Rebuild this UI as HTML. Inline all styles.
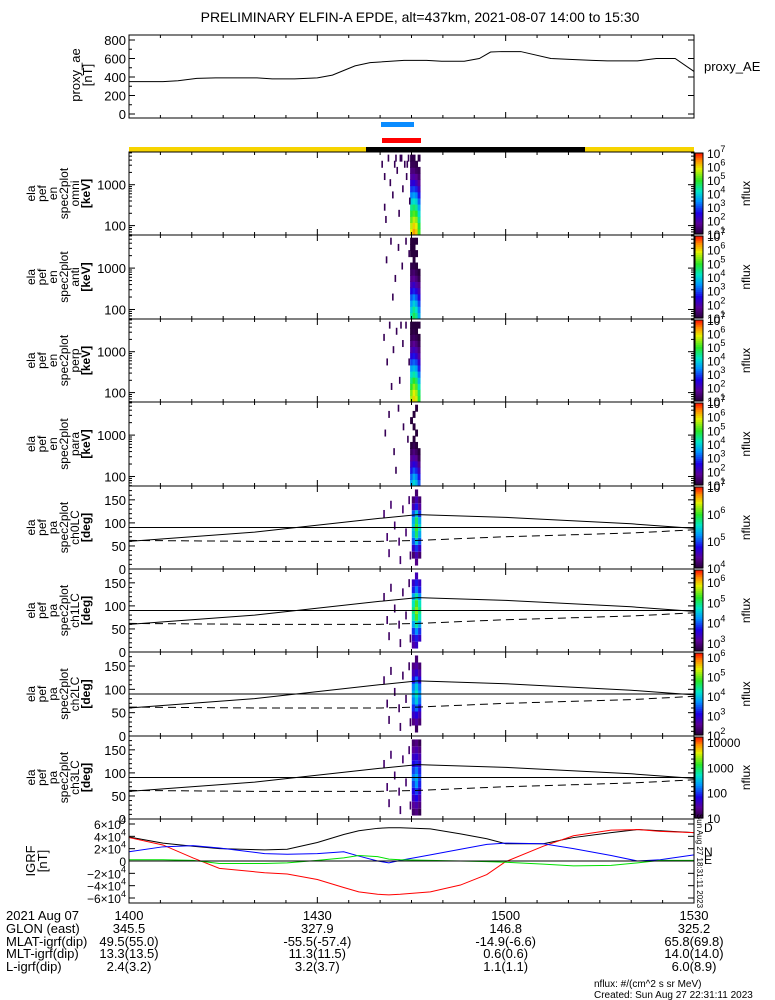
<!DOCTYPE html>
<html><head><meta charset="utf-8"><style>
body{margin:0;background:#fff;width:775px;height:1000px;overflow:hidden}
svg{display:block}
text{font-family:"Liberation Sans",sans-serif;fill:#000}
</style></head><body>
<svg id="c" width="775" height="1000"></svg>
<script>
// ---------- data ----------
const aeTimes=[0,5.4,7.8,10.8,13.8,20.4,22.8,26.4,30,32.4,34.2,36,38.4,43.8,47.4,49.8,53.4,55.8,57.6,59.4,62.4,67.2,70.2,73.8,76.2,81,84,87,90];
const aeValues=[350,350,360,385,390,390,380,380,390,420,470,520,555,580,580,570,570,600,670,675,675,600,590,580,575,575,600,600,460];
const igrfTimes=[0,5.4,10.2,14.4,21.6,25.2,30,34.2,36.6,39.6,41.4,43.2,48,52.8,57,60,66,70.8,76.8,81,84.6,90];
const igrfTotal=[3.9,2.9,2.4,2.0,1.8,1.9,3.0,4.3,4.9,5.3,5.4,5.4,5.2,4.4,3.6,2.8,2.8,3.8,4.6,5.1,4.9,4.6];
const igrfD=[3.8,2.6,0.5,-1.2,-1.9,-2.1,-3.0,-4.3,-5.0,-5.4,-5.5,-5.4,-5.0,-3.9,-2.2,-0.1,2.4,4.1,5.0,5.1,4.8,4.6];
const igrfN=[1.5,2.3,2.5,2.1,1.2,1.1,1.2,1.5,0.8,0.0,-0.3,0.1,1.0,1.9,2.7,2.9,2.8,2.0,0.9,0.0,0.2,1.0];
const igrfE=[0.2,0.2,0.1,-0.4,-0.4,-0.3,0.1,0.5,0.9,0.7,0.3,0.2,0.1,0.0,-0.1,-0.2,-0.5,-0.8,-0.7,-0.3,0.1,0.1];
const xTickLabels=["1400","1430","1500","1530"];
const xTickTimes=[0,30,60,90];
const specTimes=[45.0,45.4,45.8,46.2];
const omniCols=[[5.8,5.6,5.2,4.8,4.4,3.9,3.3,2.8,2.3,1.8,1.5,1.2,1.1],[6.3,6.0,5.6,5.1,4.6,4.1,3.5,2.9,2.4,1.9,1.5,1.2,1.1],[6.0,5.8,5.4,4.9,4.4,3.9,3.3,2.7,2.1,1.7,1.3,1.1,null],[5.0,4.8,4.4,4.0,3.6,3.1,2.6,2.1,1.7,1.4,1.2,null,1.1]];
const antiCols=[[4.2,3.9,3.5,3.0,2.5,2.0,1.6,1.3,1.1,null,1.0,1.0,1.0],[4.7,4.4,3.9,3.3,2.7,2.2,1.7,1.4,1.1,1.0,1.0,1.0,1.0],[4.4,4.1,3.6,3.0,2.4,1.9,1.5,1.2,1.0,null,1.0,null,1.0],[3.6,3.3,2.9,2.4,2.0,1.6,1.2,1.0,null,null,null,null,null]];
const perpCols=[[5.5,5.3,4.9,4.5,4.0,3.5,2.9,2.4,1.9,1.5,1.2,1.0,1.0],[6.0,5.8,5.4,4.9,4.3,3.7,3.1,2.6,2.1,1.7,1.3,1.1,1.0],[5.7,5.5,5.1,4.6,4.0,3.5,2.9,2.3,1.9,1.5,1.2,1.0,1.0],[4.8,4.6,4.2,3.7,3.2,2.7,2.2,1.8,1.5,1.2,1.0,null,1.0]];
const paraCols=[[3.5,3.1,2.6,2.1,1.7,1.3,1.0,null,null,null,1.0,null,null],[4.0,3.6,3.0,2.4,1.9,1.5,1.2,1.0,null,1.0,null,1.0,null],[3.7,3.3,2.7,2.2,1.7,1.3,1.0,null,1.0,null,null,null,1.0],[3.0,2.6,2.1,1.6,1.2,1.0,null,null,null,null,null,null,null]];
const scatterOmni=[[40.2,11],[40.6,9],[40.6,4],[41.2,12],[41.5,8],[41.9,6],[42.2,11],[42.6,10],[42.9,3],[43.1,12],[43.5,7],[43.8,11],[44.1,9],[44.4,12],[44.6,5],[40.8,2],[43.3,12],[44.2,11],[42.4,12]];
const scatterAnti=[[40.9,9],[41.6,12],[42.3,6],[42.8,11],[43.4,8],[44.0,12],[44.5,10],[41.9,3]];
const scatterPerp=[[40.5,10],[41.0,6],[41.4,12],[42.0,8],[42.5,11],[43.0,3],[43.5,9],[44.0,12],[44.5,6],[41.7,2],[43.2,12]];
const scatterPara=[[40.7,8],[41.3,11],[42.1,5],[42.8,12],[43.6,9],[44.3,7],[42.4,2]];
const eBinLog=[1.85,2.0,2.15,2.3,2.45,2.6,2.75,2.9,3.05,3.2,3.35,3.5,3.65];
const paBins=[15,30,45,60,75,90,105,120,135,150,165];
const pa0Cols=[[null,4.2,4.6,5.0,5.3,5.4,5.3,5.0,4.5,4.2,null],[4.3,4.5,4.9,5.4,5.8,6.0,5.8,5.4,4.8,4.5,4.2],[null,4.2,4.6,5.0,5.3,5.5,5.3,4.9,4.4,4.2,null]];
const pa1Cols=[[3.2,3.4,3.8,4.3,4.7,4.9,4.7,4.3,3.7,3.4,null],[3.4,3.7,4.2,4.8,5.3,5.5,5.3,4.8,4.1,3.7,3.3],[null,3.4,3.8,4.3,4.7,4.9,4.7,4.2,3.7,3.4,null]];
const pa2Cols=[[null,2.4,2.8,3.2,3.6,3.8,3.6,3.1,2.7,2.4,null],[2.2,2.6,3.0,3.5,4.0,4.2,4.0,3.5,2.9,2.6,2.3],[null,2.3,2.7,3.1,3.5,3.7,3.5,3.0,2.6,2.3,null]];
const pa3Cols=[[1.2,1.4,1.6,1.8,2.0,2.2,2.0,1.8,1.6,1.4,1.2],[1.3,1.5,1.8,2.0,2.3,2.4,2.2,1.9,1.7,1.5,1.3],[1.1,1.3,1.5,1.7,1.9,2.0,1.9,1.7,1.5,1.3,1.1]];
const paTimes=[45.3,45.8,46.3];
const lcTimes=[0,20,40,46,60,80,90];
const lcValues=[60,80,110,118,112,98,88];
const alcValues=[62,60,60,62,70,78,85];

// ---------- geometry ----------
const X0=129,X1=694,T1=90;
const xs=t=>X0+(t/T1)*(X1-X0);
const svg=document.getElementById('c');
const NS='http://www.w3.org/2000/svg';
function el(tag,attrs,parent){const e=document.createElementNS(NS,tag);for(const k in attrs)e.setAttribute(k,attrs[k]);(parent||svg).appendChild(e);return e;}
function txt(x,y,s,size,anchor,parent,fill){const t=el('text',{x:x,y:y,'font-size':size||13,'text-anchor':anchor||'start'},parent);if(fill)t.setAttribute('fill',fill);t.textContent=s;return t;}
function cmap(v,lo,hi){let f=(v-lo)/(hi-lo);f=Math.max(0,Math.min(1,f));
 const stops=[[0,[40,0,60]],[0.12,[90,0,150]],[0.25,[30,0,230]],[0.4,[0,150,255]],[0.52,[0,230,200]],[0.65,[40,230,40]],[0.8,[230,240,0]],[0.9,[255,140,0]],[1,[255,0,0]]];
 for(let i=1;i<stops.length;i++){if(f<=stops[i][0]){const a=stops[i-1],b=stops[i];const u=(f-a[0])/(b[0]-a[0]);return 'rgb('+a[1].map((c,k)=>Math.round(c+(b[1][k]-c)*u)).join(',')+')';}}return 'rgb(255,0,0)';}

const title=txt(420,22,'PRELIMINARY ELFIN-A EPDE, alt=437km, 2021-08-07 14:00 to 15:30',14,'middle');


function xTicks(y0,y1,g){
 for(let m=0;m<=90;m+=5){const x=xs(m);const L=(m%30==0)?6:3;
  el('line',{x1:x,y1:y1,x2:x,y2:y1-L,stroke:'#000'},g);el('line',{x1:x,y1:y0,x2:x,y2:y0+L,stroke:'#000'},g);}
}
function frame(y0,y1,g){el('rect',{x:X0,y:y0,width:X1-X0,height:y1-y0,fill:'none',stroke:'#000','stroke-width':1},g);xTicks(y0,y1,g);}
function yTick(y,label,g){el('line',{x1:X0,y1:y,x2:X0+6,y2:y,stroke:'#000'},g);el('line',{x1:X1,y1:y,x2:X1-6,y2:y,stroke:'#000'},g);
 if(label!==null){txt(X0-3,y+5,label,13,'end',g);}}

// ---------- AE panel ----------
const gAE=el('g',{});
const aeY=v=>114-(v/800)*74;
frame(35,118,gAE);
[0,200,400,600,800].forEach(v=>yTick(aeY(v),String(v),gAE));
for(let v=100;v<800;v+=100){if(v%200)el('line',{x1:X0,y1:aeY(v),x2:X0+3,y2:aeY(v),stroke:'#000'},gAE);}
{let d='';aeTimes.forEach((t,i)=>{d+=(i?'L':'M')+xs(t)+','+aeY(aeValues[i]);});
 const p=el('path',{d:d,fill:'none',stroke:'#000','stroke-width':1},gAE);}
['proxy_ae','[nT]'].forEach((s,i)=>{const t=txt(0,0,s,13,'middle',gAE);t.setAttribute('transform','translate('+(80+i*12)+',75) rotate(-90)');});
txt(704,71,'proxy_AE',13,'start',gAE);

el('rect',{x:381,y:122,width:33,height:5,fill:'#0a8cff'});
el('rect',{x:382,y:138,width:39,height:5,fill:'#ff0000'});
el('rect',{x:X0,y:147,width:X1-X0,height:5,fill:'#f7d400'});
el('rect',{x:366,y:147,width:219,height:5,fill:'#000'});

// ---------- spectrogram panels ----------
const panels=[
 {y0:152,y1:235,type:'e',cols:omniCols,sc:scatterOmni,lab:['ela','pef','en','spec2plot','omni','[keV]'],name:'omni-energy-spectrogram'},
 {y0:235,y1:319,type:'e',cols:antiCols,sc:scatterAnti,lab:['ela','pef','en','spec2plot','anti','[keV]'],name:'anti-energy-spectrogram'},
 {y0:319,y1:402,type:'e',cols:perpCols,sc:scatterPerp,lab:['ela','pef','en','spec2plot','perp','[keV]'],name:'perp-energy-spectrogram'},
 {y0:402,y1:486,type:'e',cols:paraCols,sc:scatterPara,lab:['ela','pef','en','spec2plot','para','[keV]'],name:'para-energy-spectrogram'},
 {y0:486,y1:569,type:'p',cols:pa0Cols,lo:4,hi:7,cb:[4,5,6,7],lab:['ela','pef','pa','spec2plot','ch0LC','[deg]'],name:'ch0-pitch-spectrogram'},
 {y0:569,y1:652,type:'p',cols:pa1Cols,lo:2.6,hi:6.6,cb:[3,4,5,6],lab:['ela','pef','pa','spec2plot','ch1LC','[deg]'],name:'ch1-pitch-spectrogram'},
 {y0:652,y1:736,type:'p',cols:pa2Cols,lo:2,hi:6.2,cb:[2,3,4,5,6],lab:['ela','pef','pa','spec2plot','ch2LC','[deg]'],name:'ch2-pitch-spectrogram'},
 {y0:736,y1:819,type:'p',cols:pa3Cols,lo:1,hi:4.2,cb:[1,2,3,4],lab:['ela','pef','pa','spec2plot','ch3LC','[deg]'],name:'ch3-pitch-spectrogram',plain:true},
];
panels.forEach((P)=>{
 const g=el('g',{});
 const h=P.y1-P.y0;
 if(P.type==='e'){
  const ey=l=>P.y1-((l-1.77)/2.03)*h;
  P.cols.forEach((col,ci)=>{col.forEach((v,bi)=>{if(v===null)return;const yc=ey(eBinLog[bi]);const r=el('rect',{x:xs(specTimes[ci])-1.4,y:yc-3.5,width:2.9,height:7,fill:cmap(v,1,7)},g);});});
  P.sc.forEach(s=>{const yc=ey(eBinLog[s[1]]);el('rect',{x:xs(s[0]),y:yc-3.5,width:1.6,height:7,fill:cmap(1.2,1,7)},g);});
  frame(P.y0,P.y1,g);
  [[2,'100'],[3,'1000']].forEach(a=>yTick(ey(a[0]),a[1],g));
  for(let d=1;d<4;d++)for(let k=2;k<10;k++){const l=d+Math.log10(k);if(l<1.77||l>3.8)continue;const y=ey(l);el('line',{x1:X0,y1:y,x2:X0+3,y2:y,stroke:'#000'},g);el('line',{x1:X1,y1:y,x2:X1-3,y2:y,stroke:'#000'},g);}
  P.lo=1;P.hi=7;P.cb=[1,2,3,4,5,6,7];
 } else {
  const py=a=>P.y1-(a/180)*h;
  P.cols.forEach((col,ci)=>{col.forEach((v,bi)=>{if(v===null)return;const r=el('rect',{x:xs(paTimes[ci])-1.6,y:py(paBins[bi]+7.5),width:3.2,height:h/12,fill:cmap(v,P.lo,P.hi)},g);});});
  [[40.5,120],[41.0,70],[41.6,140],[42.2,95],[42.9,60],[43.5,130],[44.0,80],[44.5,150],[41.3,35],[43.1,20],[44.7,30]].forEach(s=>{el('rect',{x:xs(s[0]),y:py(s[1]+8),width:1.6,height:8,fill:cmap(P.lo+0.2,P.lo,P.hi)},g);});
  let d='';lcTimes.forEach((t,i)=>{d+=(i?'L':'M')+xs(t)+','+py(lcValues[i]);});
  el('path',{d:d,fill:'none',stroke:'#000'},g);
  d='';lcTimes.forEach((t,i)=>{d+=(i?'L':'M')+xs(t)+','+py(alcValues[i]);});
  el('path',{d:d,fill:'none',stroke:'#000','stroke-dasharray':'8,5'},g);
  el('line',{x1:X0,y1:py(90),x2:X1,y2:py(90),stroke:'#000'},g);
  frame(P.y0,P.y1,g);
  [0,50,100,150].forEach(a=>yTick(py(a),String(a),g));
  for(let a=10;a<180;a+=10)if(a%50){el('line',{x1:X0,y1:py(a),x2:X0+3,y2:py(a),stroke:'#000'},g);el('line',{x1:X1,y1:py(a),x2:X1-3,y2:py(a),stroke:'#000'},g);}
 }
 P.lab.forEach((s,i)=>{const t=txt(0,0,s,12,'middle',g);t.setAttribute('transform','translate('+(35+i*11)+','+((P.y0+P.y1)/2)+') rotate(-90)');if(i==5)t.setAttribute('font-weight','bold');});
 const cb=el('g',{},g);
 const cy0=P.y0+1,cy1=P.y1-1;
 for(let k=0;k<40;k++){const f0=k/40;el('rect',{x:695,y:cy1-(k+1)/40*(cy1-cy0),width:8,height:(cy1-cy0)/40+0.6,fill:cmap(P.lo+f0*(P.hi-P.lo),P.lo,P.hi)},cb);}
 el('rect',{x:695,y:cy0,width:8,height:cy1-cy0,fill:'none',stroke:'#000'},cb);
 P.cb.forEach(e=>{const y=cy1-(e-P.lo)/(P.hi-P.lo)*(cy1-cy0);const t=el('text',{x:707,y:y+5,'font-size':12},cb);
  if(P.plain){t.textContent=String(Math.pow(10,e));}else{t.textContent='10';const s=el('tspan',{dy:-6,'font-size':9},t);s.textContent=String(e);}});
 const nt=txt(0,0,'nflux',12,'middle',cb);nt.setAttribute('transform','translate(750,'+((P.y0+P.y1)/2)+') rotate(-90)');
});

// ---------- IGRF panel ----------
const gI=el('g',{});
const iy=v=>861-v*(37/6);
[[igrfTotal,'#000','igrf-total-line'],[igrfD,'#ff0000','igrf-d-line'],[igrfN,'#0000ff','igrf-n-line'],[igrfE,'#00e000','igrf-e-line']].forEach(s=>{
 let d='';igrfTimes.forEach((t,i)=>{d+=(i?'L':'M')+xs(t)+','+iy(s[0][i]);});
 const p=el('path',{d:d,fill:'none',stroke:s[1],'stroke-width':1},gI);});
el('line',{x1:X0,y1:iy(0),x2:X1,y2:iy(0),stroke:'#000'},gI);
frame(819,903,gI);
[-6,-4,-2,0,2,4,6].forEach(v=>{const y=iy(v);el('line',{x1:X0,y1:y,x2:X0+6,y2:y,stroke:'#000'},gI);el('line',{x1:X1,y1:y,x2:X1-6,y2:y,stroke:'#000'},gI);
 const t=el('text',{x:X0-3,y:y+5,'font-size':12,'text-anchor':'end'},gI);
 if(v===0)t.textContent='0';else{t.textContent=(v<0?'−':'')+Math.abs(v)+'×10';const s=el('tspan',{dy:-6,'font-size':9},t);s.textContent='4';}});
['IGRF','[nT]'].forEach((s,i)=>{const t=txt(0,0,s,13,'middle',gI);t.setAttribute('transform','translate('+(35+i*12)+',861) rotate(-90)');});
txt(704,832,'D',12,'start',gI,'#ff0000');txt(704,856,'N',12,'start',gI,'#0000ff');txt(704,864,'E',12,'start',gI,'#00e000');
{const t=txt(0,0,'Sun Aug 27 18:31:11 2023',8,'middle',gI);t.setAttribute('transform','translate(697,861) rotate(90)');}

// ---------- bottom ephemeris text ----------
const gT=el('g',{});
const rowsL=['2021 Aug 07','GLON (east)','MLAT-igrf(dip)','MLT-igrf(dip)','L-igrf(dip)'];
const rowVals=[xTickLabels,['345.5','327.9','146.8','325.2'],['49.5(55.0)','-55.5(-57.4)','-14.9(-6.6)','65.8(69.8)'],['13.3(13.5)','11.3(11.5)','0.6(0.6)','14.0(14.0)'],['2.4(3.2)','3.2(3.7)','1.1(1.1)','6.0(8.9)']];
const rowY=[920,933,946,958,971];
rowsL.forEach((s,i)=>{txt(6,rowY[i],s,13,'start',gT);rowVals[i].forEach((v,j)=>{txt(xs(xTickTimes[j]),rowY[i],v,13,'middle',gT);});});
txt(594,987,'nflux: #/(cm^2 s sr MeV)',10,'start',gT);
txt(594,998,'Created: Sun Aug 27 22:31:11 2023',10,'start',gT);
</script>
</body></html>
